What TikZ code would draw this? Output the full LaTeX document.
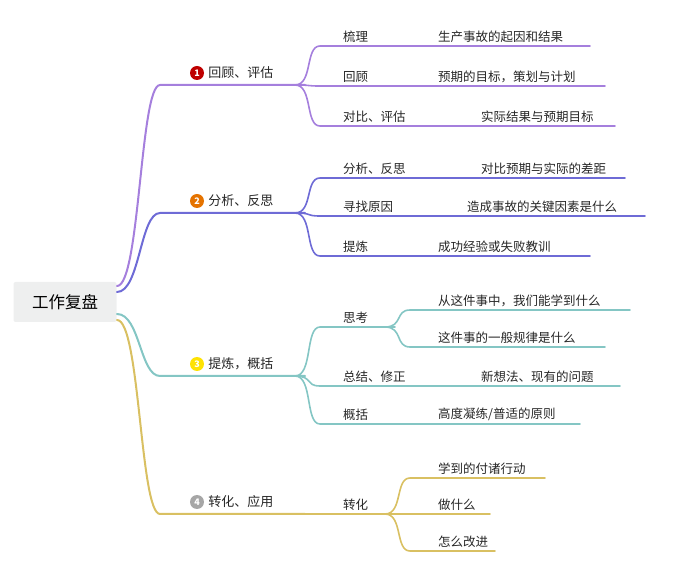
\documentclass[tikz,border=0pt]{standalone}
\usepackage{fontspec}
\setmainfont{Noto Sans CJK SC}
\usetikzlibrary{calc}
\definecolor{cA}{HTML}{A57FDD}
\definecolor{cB}{HTML}{6E6BD6}
\definecolor{cC}{HTML}{84C6C4}
\definecolor{cD}{HTML}{D9C062}
\definecolor{rootbg}{HTML}{EEEFEF}
\begin{document}
\begin{tikzpicture}[x=1pt, y=-1pt,
		topic/.style={anchor=south west, inner sep=1pt, font=\fontsize{12.5}{14}\selectfont, text=black!85},
		main/.style={topic, font=\fontsize{13}{15}\selectfont},
		badge/.style={circle, inner sep=0pt, minimum size=14pt, text=white, font=\fontsize{9}{9}\selectfont\bfseries},
		branch/.style={line width=2pt, line cap=round},
		twig/.style={line width=1.6pt, line cap=round}]
	\useasboundingbox (0,0) rectangle (673,585);

	\node[fill=rootbg, rounded corners=2pt, minimum width=103pt, minimum height=40pt, font=\fontsize{16.5}{18}\selectfont] (root) at (65,302) {工作复盘};

	% main branches: name/colour/line y/badge colour/number/label
	\foreach \n/\c/\y/\bc/\k/\t/\ry in {A/cA/85/red!75!black/1/回顾、评估/286, B/cB/213/orange!90!black/2/分析、反思/292, C/cC/376/yellow!85!orange/3/提炼，概括/314, D/cD/514/gray!70/4/转化、应用/320} {
		\coordinate (\n0) at (160,\y);
		\coordinate (\n1) at (305,\y);
		\draw[branch, \c] (117,\ry) .. controls (140,\ry) and (140,\y) .. (\n0) -- (\n1);
		\node[badge, fill=\bc] (\n b) at (197,\y-12) {\k};
		\node[main, anchor=west] (\n t) at ($(\n b.east)+(3,0)$) {\t};
	}

	% second level: branch/colour/line y/end x/label/detail/detail x
	\foreach \n/\c/\y/\e/\a/\b/\bx [count=\i] in {
		A/cA/46/590/梳理/生产事故的起因和结果/437,
		A/cA/86/605/回顾/预期的目标，策划与计划/437,
		A/cA/126/615/对比、评估/实际结果与预期目标/480,
		B/cB/178/625/分析、反思/对比预期与实际的差距/480,
		B/cB/216/645/寻找原因/造成事故的关键因素是什么/466,
		B/cB/256/590/提炼/成功经验或失败教训/437,
		C/cC/386/620/总结、修正/新想法、现有的问题/480,
		C/cC/424/580/概括/{高度凝练/普适的原则}/437} {
		\coordinate (s\i) at (320,\y);
		\coordinate (e\i) at (\e,\y);
		\draw[twig, \c] ($(\n1)+(-10,0)$) .. controls ($(\n1)+(8,0)$) and (305,\y) .. (s\i) -- (e\i);
		\node[topic] (a\i) at ($(s\i)+(22,-2)$) {\a};
		\node[topic] (b\i) at ($(\bx,\y)+(0,-2)$) {\b};
	}

	% third level under 思考 and 转化
	\coordinate (sk) at (320,327); \coordinate (sk1) at (395,327);
	\coordinate (zh) at (320,514); \coordinate (zh1) at (395,514);
	\draw[twig, cC] ($(C1)+(-10,0)$) .. controls ($(C1)+(8,0)$) and (305,327) .. (sk) -- (sk1);
	\draw[twig, cD] ($(D1)+(-10,0)$) -- (zh) -- (zh1);
	\node[topic] (sk t) at ($(sk)+(22,-2)$) {思考};
	\node[topic] (zh t) at ($(zh)+(22,-2)$) {转化};
	\foreach \src/\c/\y/\e/\t [count=\j] in {
		sk1/cC/310/630/从这件事中，我们能学到什么,
		sk1/cC/347/605/这件事的一般规律是什么,
		zh1/cD/478/545/学到的付诸行动,
		zh1/cD/514/490/做什么,
		zh1/cD/551/495/怎么改进} {
		\coordinate (t\j) at (410,\y);
		\coordinate (u\j) at (\e,\y);
		\draw[twig, \c] ($(\src)+(-10,0)$) .. controls ($(\src)+(8,0)$) and (395,\y) .. (t\j) -- (u\j);
		\node[topic] (c\j) at ($(t\j)+(27,-2)$) {\t};
	}
\end{tikzpicture}
\end{document}
